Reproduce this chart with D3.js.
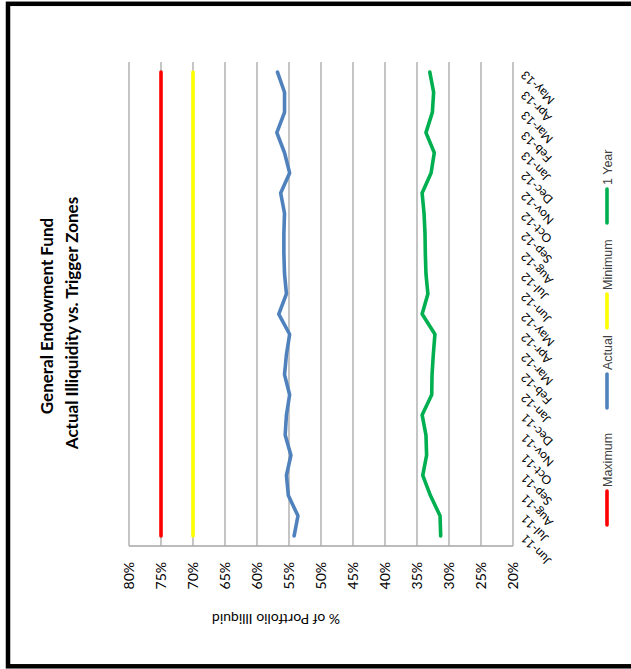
<!DOCTYPE html>
<html>
<head>
<meta charset="utf-8">
<script src="https://cdn.jsdelivr.net/npm/d3@7"></script>
<style>
  html, body { margin: 0; padding: 0; background: #fff; }
  svg { display: block; }
</style>
</head>
<body>
<svg id="chart" width="631" height="669"></svg>
<script>
// ---------- data ----------
const categories = ["Jun-11","Jul-11","Aug-11","Sep-11","Oct-11","Nov-11","Dec-11",
  "Jan-12","Feb-12","Mar-12","Apr-12","May-12","Jun-12","Jul-12","Aug-12","Sep-12","Oct-12","Nov-12","Dec-12",
  "Jan-13","Feb-13","Mar-13","Apr-13","May-13"];
const maximum = [0.75,0.75,0.75,0.75,0.75,0.75,0.75,0.75,0.75,0.75,0.75,0.75,
                 0.75,0.75,0.75,0.75,0.75,0.75,0.75,0.75,0.75,0.75,0.75,0.75];
const actual = [0.542,0.536,0.551,0.554,0.547,0.556,0.554,0.549,0.557,0.554,0.549,0.566,
                0.554,0.557,0.558,0.558,0.557,0.563,0.549,0.557,0.569,0.557,0.557,0.568];
const minimum = [0.70,0.70,0.70,0.70,0.70,0.70,0.70,0.70,0.70,0.70,0.70,0.70,
                 0.70,0.70,0.70,0.70,0.70,0.70,0.70,0.70,0.70,0.70,0.70,0.70];
const oneYear = [0.313,0.314,0.329,0.341,0.335,0.336,0.342,0.327,0.3265,0.3245,0.322,0.342,
                 0.333,0.336,0.337,0.3375,0.339,0.342,0.328,0.323,0.336,0.326,0.324,0.330];
const seriesNames = ["Maximum","Actual","Minimum","1 Year"];
const seriesColors = ["#FF0000","#4F81BD","#FFFF00","#00B050"];
const tickValues = [0.8,0.75,0.7,0.65,0.6,0.55,0.5,0.45,0.4,0.35,0.3,0.25,0.2];
const titleLines = ["General Endowment Fund","Actual Illiquidity vs. Trigger Zones"];
const axisTitle = "% of Portfolio Illiquid";

// ---------- layout ----------
const svg = d3.select("#chart");
const plot = {left: 129, right: 513, top: 62, bottom: 546};
const fontMain = "Lato, 'Open Sans', sans-serif";
const fontLegend = "'Liberation Sans', Arial, sans-serif";

// outer frame
svg.append("rect")
  .attr("x", 8).attr("y", 3.8).attr("width", 700).attr("height", 662.5)
  .attr("fill", "none").attr("stroke", "#000").attr("stroke-width", 4.5);

const x = d3.scaleLinear().domain([0.8, 0.2]).range([plot.left, plot.right]);
const y = d3.scaleBand().domain(categories).range([plot.bottom, plot.top]);
const yc = c => y(c) + y.bandwidth() / 2;

// gridlines (value axis)
svg.append("g").selectAll("line").data(tickValues).join("line")
  .attr("x1", d => x(d)).attr("x2", d => x(d))
  .attr("y1", plot.top).attr("y2", plot.bottom)
  .attr("stroke", "#A6A6A6").attr("stroke-width", 1.3);

// value axis line (bottom)
svg.append("line")
  .attr("x1", plot.left).attr("x2", plot.right)
  .attr("y1", plot.bottom).attr("y2", plot.bottom)
  .attr("stroke", "#A6A6A6").attr("stroke-width", 1.3);

// value tick labels
svg.append("g").selectAll("text").data(tickValues).join("text")
  .attr("transform", d => `translate(${x(d)},562) rotate(-90)`)
  .attr("text-anchor", "end")
  .attr("dy", "0.36em")
  .attr("font-family", fontMain).attr("font-size", 14)
  .attr("fill", "#000")
  .text(d => d3.format(".0%")(d));

// value axis title (upside down)
svg.append("text")
  .attr("transform", "translate(276,614) rotate(180)")
  .attr("text-anchor", "middle")
  .attr("font-family", fontMain).attr("font-size", 14)
  .attr("fill", "#000")
  .text(axisTitle);

// category labels
svg.append("g").selectAll("text").data(categories).join("text")
  .attr("transform", d => `translate(523,${yc(d) + 1}) rotate(-135)`)
  .attr("text-anchor", "end")
  .attr("dy", "0.35em")
  .attr("font-family", fontMain).attr("font-size", 12)
  .attr("fill", "#000")
  .text(d => d);

// series lines
const seriesData = [maximum, actual, minimum, oneYear];
const line = d3.line()
  .x(d => x(d.v))
  .y(d => yc(d.c));
svg.append("g").selectAll("path").data(seriesData).join("path")
  .attr("d", vals => line(vals.map((v, i) => ({c: categories[i], v}))))
  .attr("fill", "none")
  .attr("stroke", (d, i) => seriesColors[i])
  .attr("stroke-width", 3.6)
  .attr("stroke-linejoin", "round")
  .attr("stroke-linecap", "round");

// title
const titleCenters = [316, 323];
const titleBaselines = [53, 78];
svg.append("g").selectAll("text").data(titleLines).join("text")
  .attr("transform", (d, i) => `translate(${titleBaselines[i]},${titleCenters[i]}) rotate(-90)`)
  .attr("text-anchor", "middle")
  .attr("font-family", fontMain).attr("font-size", 17).attr("font-weight", "bold")
  .attr("fill", "#000")
  .text(d => d);

// legend
const legendX = 607;
const legendStarts = [525, 408, 328, 223];
const markerLen = 34;
const lg = svg.append("g").selectAll("g").data(seriesNames).join("g");
lg.append("line")
  .attr("x1", legendX).attr("x2", legendX)
  .attr("y1", (d, i) => legendStarts[i]).attr("y2", (d, i) => legendStarts[i] - markerLen)
  .attr("stroke", (d, i) => seriesColors[i])
  .attr("stroke-width", 3.6)
  .attr("stroke-linecap", "round");
lg.append("text")
  .attr("transform", (d, i) => `translate(${legendX},${legendStarts[i] - markerLen - 4}) rotate(-90)`)
  .attr("text-anchor", "start")
  .attr("dy", "0.36em")
  .attr("font-family", fontLegend).attr("font-size", 12.5)
  .attr("fill", "#404040")
  .text(d => d);
</script>
</body>
</html>
